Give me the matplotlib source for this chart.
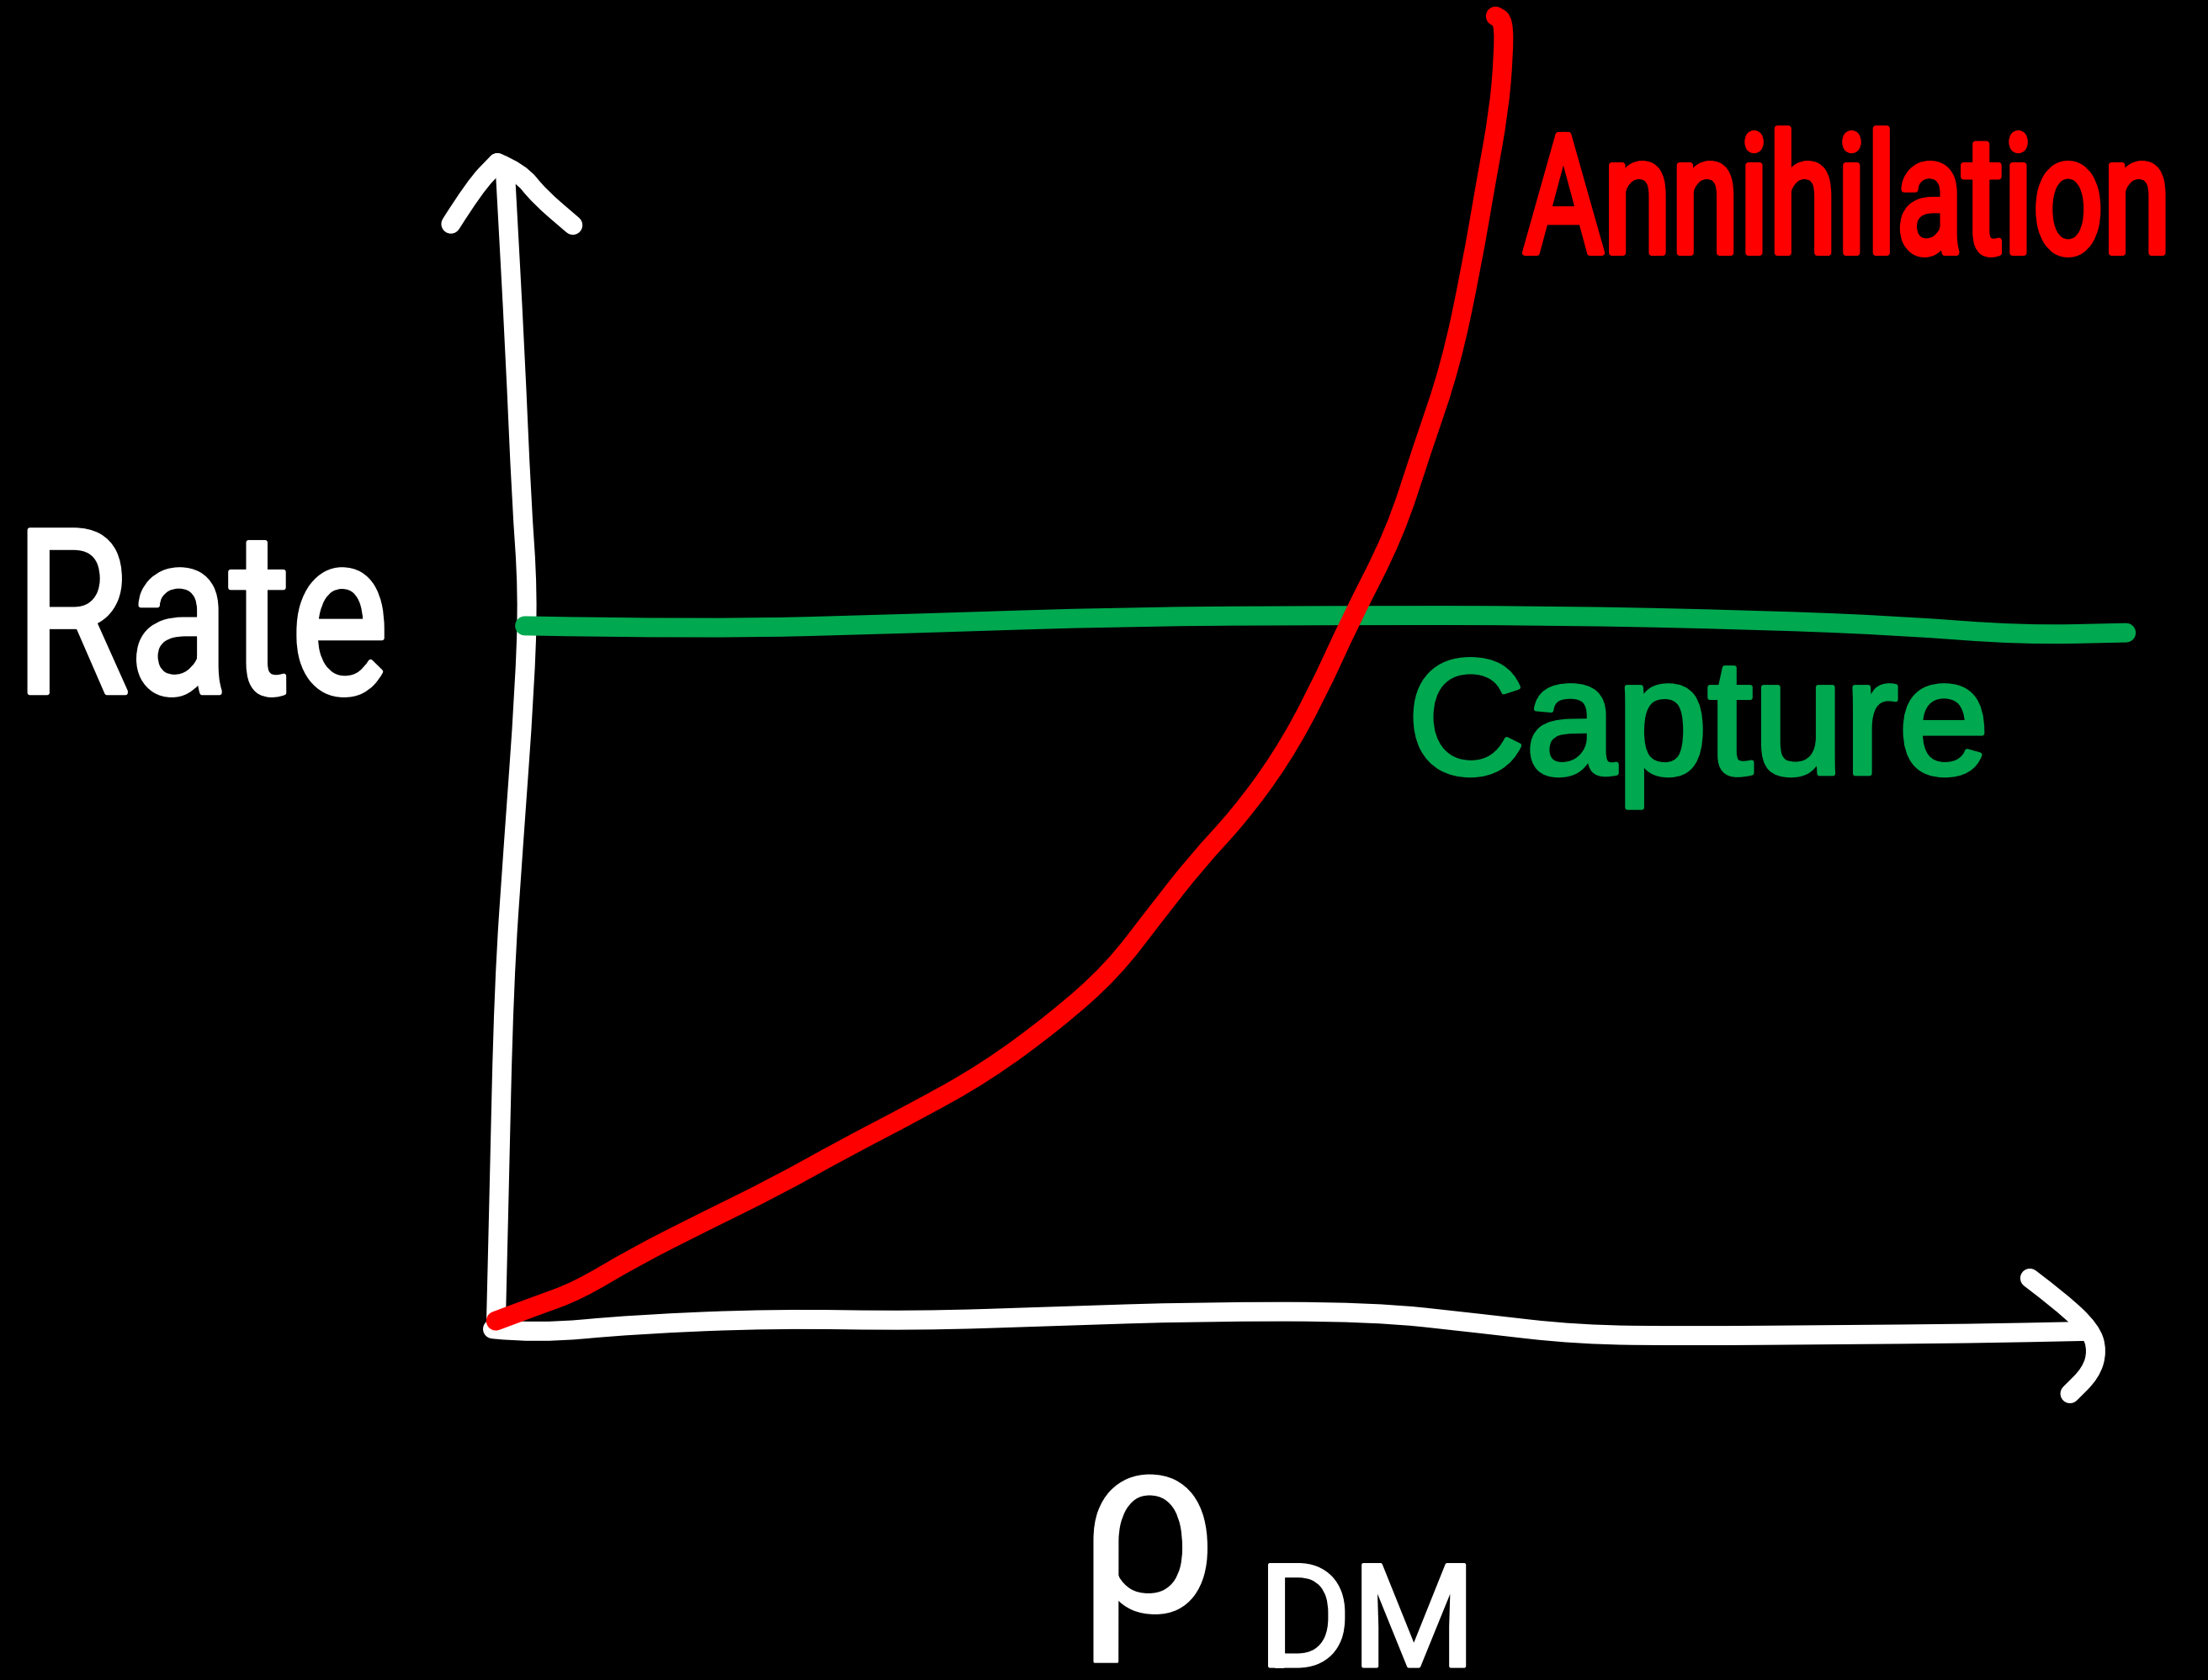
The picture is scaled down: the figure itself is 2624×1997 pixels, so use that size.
import matplotlib.pyplot as plt
import matplotlib.patheffects as pe
from matplotlib.path import Path
from matplotlib.patches import PathPatch
from matplotlib.transforms import Affine2D

# Sketch of capture vs annihilation rate against dark matter density
# (arbitrary units, origin at the corner of the axes)

# red annihilation curve, steepening with density
annih_rho = [0.00, 0.25, 0.51, 0.86, 1.30, 1.74, 2.18, 2.61, 3.05, 3.49, 3.84,
             4.11, 4.37, 4.63, 4.89, 5.11, 5.33, 5.60, 5.77, 5.95, 6.08, 6.17,
             6.25, 6.28, 6.28, 6.23]
annih_rate = [0.02, 0.15, 0.28, 0.57, 0.88, 1.18, 1.52, 1.83, 2.17, 2.62, 3.05,
              3.54, 4.00, 4.39, 4.88, 5.43, 6.10, 6.83, 7.56, 8.29, 9.15, 9.88,
              10.49, 10.98, 11.28, 11.32]

# green capture rate, flat in density
capt_rho = [0.18, 1.30, 2.61, 3.93, 5.25, 6.56, 7.88, 8.76, 9.51, 10.16]
capt_rate = [6.04, 6.01, 6.06, 6.12, 6.13, 6.13, 6.09, 6.04, 5.96, 5.98]

# hand drawn axes
yaxis_x = [0.00, 0.02, 0.05, 0.11, 0.18, 0.20, 0.16, 0.12, 0.06]
yaxis_y = [-0.05, 1.10, 2.93, 4.15, 5.49, 6.34, 7.12, 8.41, 9.94]
yhead_left_x = [-0.28, -0.13, 0.01]
yhead_left_y = [9.52, 9.85, 10.05]
yhead_right_x = [0.01, 0.15, 0.27, 0.48]
yhead_right_y = [10.05, 9.97, 9.76, 9.51]

xaxis_x = [-0.02, 0.25, 0.86, 1.74, 2.61, 3.49, 4.37, 5.46, 6.12, 6.74, 7.44,
           8.32, 9.19, 9.89]
xaxis_y = [-0.05, -0.09, -0.01, 0.04, 0.02, 0.06, 0.10, 0.10, 0.00, -0.10,
           -0.11, -0.10, -0.09, -0.07]
xhead_x = [9.56, 9.76, 9.94, 9.98, 9.94, 9.81]
xhead_y = [0.39, 0.18, -0.06, -0.24, -0.43, -0.61]

WHITE = '#FFFFFF'
RED = '#FF0000'
GREEN = '#00A84F'
LW = 16.5


class Lettering(pe.AbstractPathEffect):
    """Fill + round stroke of the glyphs, optionally squeezed sideways."""

    def __init__(self, color, lw, squeeze=1.0, about='left'):
        super().__init__()
        self.color = color
        self.lw = lw
        self.squeeze = squeeze
        self.about = about

    def draw_path(self, renderer, gc, tpath, affine, rgbFace=None):
        x0 = tpath.get_extents().x1 if self.about == 'right' else 0.0
        squash = Affine2D().translate(-x0, 0).scale(self.squeeze, 1).translate(x0, 0)
        gc0 = renderer.new_gc()
        gc0.copy_properties(gc)
        gc0.set_linewidth(self.lw)
        gc0.set_foreground(self.color)
        gc0.set_capstyle('round')
        gc0.set_joinstyle('round')
        renderer.draw_path(gc0, tpath, squash + affine, rgbFace)
        gc0.restore()


def stroke(ax, xs, ys, color):
    # quadratic bezier through the midpoints so the pen line stays smooth
    pts = list(zip(xs, ys))
    verts = [pts[0]]
    codes = [Path.MOVETO]
    for i in range(1, len(pts) - 1):
        mid = ((pts[i][0] + pts[i + 1][0]) / 2, (pts[i][1] + pts[i + 1][1]) / 2)
        verts += [pts[i], mid]
        codes += [Path.CURVE3, Path.CURVE3]
    verts.append(pts[-1])
    codes.append(Path.LINETO)
    ax.add_patch(PathPatch(Path(verts, codes), fill=False, edgecolor=color,
                           lw=LW, capstyle='round', joinstyle='round'))


fig = plt.figure(figsize=(26.24, 19.97), dpi=100, facecolor='black')
ax = fig.add_axes([0, 0, 1, 1])
ax.set_facecolor('black')
ax.set_xlim(-3.09, 10.67)
ax.set_ylim(-3.09, 11.46)
ax.axis('off')

stroke(ax, yaxis_x, yaxis_y, WHITE)
stroke(ax, yhead_left_x, yhead_left_y, WHITE)
stroke(ax, yhead_right_x, yhead_right_y, WHITE)
stroke(ax, xaxis_x, xaxis_y, WHITE)
stroke(ax, xhead_x, xhead_y, WHITE)

stroke(ax, capt_rho, capt_rate, GREEN)
stroke(ax, annih_rho, annih_rate, RED)

ax.text(-3.00, 5.46, 'Rate', color=WHITE, family='Roboto', fontsize=196,
        ha='left', va='baseline',
        path_effects=[Lettering(WHITE, 4, squeeze=0.81)])
ax.text(10.46, 9.27, 'Annihilation', color=RED, family='Roboto', fontsize=142,
        ha='right', va='baseline',
        path_effects=[Lettering(RED, 5, squeeze=0.74, about='right')])
ax.text(5.68, 4.76, 'Capture', color=GREEN, family='Liberation Sans',
        fontsize=140, ha='left', va='baseline',
        path_effects=[Lettering(GREEN, 4)])
ax.text(3.62, -2.49, 'ρ', color=WHITE, family='Roboto', fontsize=215,
        ha='left', va='baseline', path_effects=[Lettering(WHITE, 2)])
ax.text(4.75, -2.97, 'DM', color=WHITE, family='Roboto', fontsize=122,
        ha='left', va='baseline', path_effects=[Lettering(WHITE, 3)])

fig.savefig('out.png', dpi=100, facecolor='black')
